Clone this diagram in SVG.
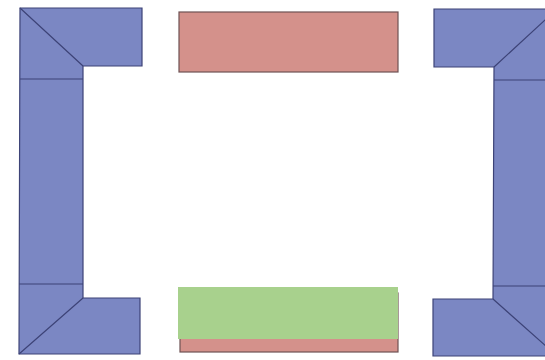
<svg xmlns="http://www.w3.org/2000/svg" width="545" height="360" viewBox="0 0 545 360">
<style>
.blue{fill:#7b87c3;stroke:#3d4377;stroke-width:1.2}
.ln{stroke:#3d4377;stroke-width:1.2;fill:none}
.pink{fill:#d4918b;stroke:#6e5254;stroke-width:1.2}
.green{fill:#a8d18d;stroke:none}
</style>
<rect width="545" height="360" fill="#ffffff"/>
<g id="left-frame">
<polygon class="blue" points="20,8 142,8 142,66 83,66 83,298 140,298 140,354 19,354"/>
<path class="ln" d="M20,8 L83,66 M20,79 L83,79 M19,284 L83,284 M19,354 L83,298"/>
</g>
<g id="right-frame">
<polygon class="blue" points="434,9 560,9 560,356 433,356 433,299 493,299 494,67 434,67"/>
<path class="ln" d="M494,67 L557,9 M494,80 L560,80 M493,286 L560,286 M493,299 L557,356"/>
</g>
<g id="top-bar">
<rect class="pink" x="179" y="12" width="219" height="60"/>
</g>
<g id="bottom-bar">
<rect class="pink" x="180" y="293" width="218" height="59"/>
<rect class="green" x="178" y="287" width="220" height="52"/>
</g>
</svg>
